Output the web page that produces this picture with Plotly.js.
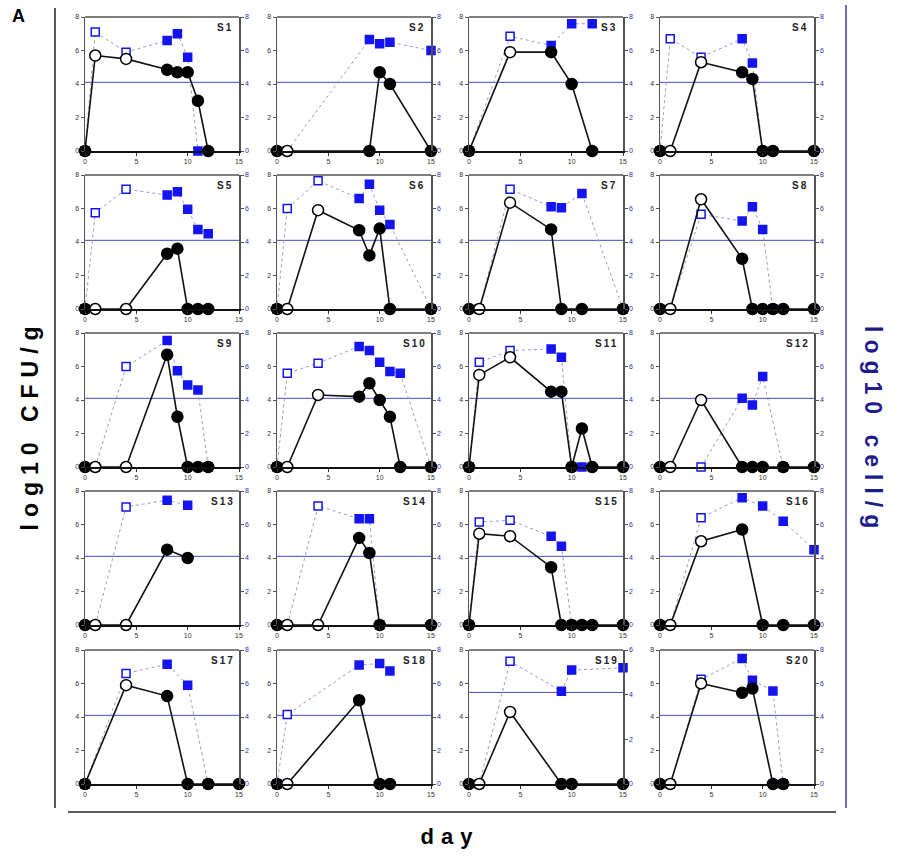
<!DOCTYPE html>
<html><head><meta charset="utf-8">
<script src="https://cdn.plot.ly/plotly-3.0.1.min.js"></script>
<style>body{margin:0;background:#fff}</style></head>
<body>
<div id="chart" style="width:900px;height:856px"></div>
<script>
const samples = ['S1','S2','S3','S4','S5','S6','S7','S8','S9','S10','S11','S12','S13','S14','S15','S16','S17','S18','S19','S20'];

const cfuDays = [
 [0,1,4,8,9,10,11,12],[0,1,9,10,11,15],[0,4,8,10,12],[0,1,4,8,9,10,11,15],
 [0,1,4,8,9,10,11,12],[0,1,4,8,9,10,11,15],[0,1,4,8,9,11,15],[0,1,4,8,9,10,11,12,15],
 [0,1,4,8,9,10,11,12],[0,1,4,8,9,10,11,12,15],[0,1,4,8,9,10,11,12,15],[0,1,4,8,9,10,12,15],
 [0,1,4,8,10],[0,1,4,8,9,10,15],[0,1,4,8,9,10,11,12,15],[0,1,4,8,10,12,15],
 [0,4,8,10,12,15],[0,1,8,10,11],[0,1,4,9,10,15],[0,1,4,8,9,11,12]
];
const cfuValues = [
 [0,5.7,5.5,4.85,4.7,4.7,3.0,0],[0,0,0,4.7,4.0,0],[0,5.9,5.9,4.0,0],[0,0,5.3,4.7,4.3,0,0,0],
 [0,0,0,3.3,3.6,0,0,0],[0,0,5.9,4.7,3.2,4.8,0,0],[0,0,6.35,4.75,0,0,0],[0,0,6.55,3.0,0,0,0,0,0],
 [0,0,0,6.7,3.0,0,0,0],[0,0,4.3,4.2,5.0,4.0,3.0,0,0],[0,5.5,6.55,4.5,4.5,0,2.3,0,0],[0,0,4.0,0,0,0,0,0],
 [0,0,0,4.5,4.0],[0,0,0,5.2,4.3,0,0],[0,5.45,5.3,3.45,0,0,0,0,0],[0,0,5.0,5.7,0,0,0],
 [0,5.9,5.25,0,0,0],[0,0,5.0,0,0],[0,0,4.3,0,0,0],[0,0,6.0,5.45,5.7,0,0]
];
const cellDays = [
 [0,1,4,8,9,10,11],[1,9,10,11,15],[0,4,8,10,12],[0,1,4,8,9,10],
 [0,1,4,8,9,10,11,12],[0,1,4,8,9,10,11,15],[1,4,8,9,11,15],[1,4,8,9,10,11],
 [1,4,8,9,10,11,12],[0,1,4,8,9,10,11,12,15],[0,1,4,8,9,10,11],[4,8,9,10,12],
 [1,4,8,10],[1,4,8,9,10],[0,1,4,8,9,10],[1,4,8,10,12,15],
 [0,4,8,10,12],[0,1,8,10,11],[1,4,9,10,15],[1,4,8,9,11,12]
];
const cellValues = [
 [0,7.1,5.9,6.6,7.0,5.6,0],[0,6.65,6.4,6.5,6.0],[0,6.85,6.3,7.6,7.6],[0,6.7,5.6,6.7,5.25,0],
 [0,5.75,7.15,6.8,7.0,5.95,4.75,4.5],[0,6.0,7.65,6.6,7.45,5.9,5.05,0],[0,7.15,6.1,6.05,6.9,0],[0,5.65,5.25,6.1,4.75,0],
 [0,6.0,7.55,5.75,4.9,4.6,0],[0,5.6,6.2,7.2,6.95,6.25,5.7,5.6,0],[0,6.25,6.95,7.05,6.55,0,0],[0,4.1,3.7,5.4,0],
 [0,7.05,7.45,7.15],[0,7.1,6.35,6.35,0],[0,6.15,6.25,5.3,4.7,0],[0,6.4,7.6,7.1,6.2,4.5],
 [0,6.6,7.15,5.9,0],[0,4.15,7.1,7.2,6.75],[0,5.5,4.15,5.1,5.2],[0,6.25,7.5,6.2,5.55,0]
];
const cellAxisMax = [8,8,8,8,8,8,8,8,8,8,8,8,8,8,8,8,8,8,6,8];
const detectionLimit = [4.1,4.1,4.1,4.1,4.1,4.1,4.1,4.1,4.1,4.1,4.1,4.1,4.1,4.1,4.1,4.1,4.1,4.1,4.1,4.1];
const cfuTicks = [0,2,4,6,8];
const dayTicks = [0,5,10,15];

const W = 900, H = 856;
const colLeft = [85,277,469,660], colW = 154;
const rowTop = [17,175,333,491,650], rowH = 134;
const BLUE = '#1414f0';
const FONT = 'Liberation Sans, Arial, sans-serif';
const isOpen = d => d === 1 || d === 4;

const traces = [];
const layout = {
  width: W, height: H, margin: {l:0, r:0, t:0, b:0}, showlegend: false,
  paper_bgcolor: 'white', plot_bgcolor: 'rgba(0,0,0,0)',
  shapes: [], annotations: []
};

samples.forEach((s, i) => {
  const n = i + 1, r = Math.floor(i / 4), c = i % 4;
  const sfx = n === 1 ? '' : String(n);
  const xa = 'x' + sfx, ya = 'y' + sfx;          // base y: cell/g (right)
  const ovN = 20 + n, yo = 'y' + ovN;            // overlay y: CFU/g (left)
  const xd = [colLeft[c] / W, (colLeft[c] + colW) / W];
  const yd = [1 - (rowTop[r] + rowH) / H, 1 - rowTop[r] / H];
  const rmax = cellAxisMax[i];
  const rticks = []; for (let t = 0; t <= rmax; t += 2) rticks.push(t);

  layout['xaxis' + sfx] = {
    domain: xd, anchor: ya, range: [0, 15], tickvals: dayTicks, ticks: 'outside', ticklen: 3,
    tickwidth: 1, tickcolor: '#333', showline: true, linecolor: '#111', linewidth: 2,
    showgrid: false, zeroline: false, fixedrange: true,
    tickfont: {size: 7, color: '#333', family: FONT}
  };
  layout['yaxis' + sfx] = {
    domain: yd, anchor: xa, side: 'right', range: [0, rmax], tickvals: rticks, ticks: 'outside',
    ticklen: 3, tickwidth: 1, tickcolor: '#555', showline: true, linecolor: '#555', linewidth: 1.5,
    showgrid: false, zeroline: false, fixedrange: true,
    tickfont: {size: 7, color: '#2a2ab0', family: FONT}
  };
  layout['yaxis' + ovN] = {
    overlaying: ya, anchor: xa, side: 'left', range: [0, 8], tickvals: cfuTicks, ticks: 'outside',
    ticklen: 3, tickwidth: 1, tickcolor: '#555', showline: true, linecolor: '#555', linewidth: 1.5,
    showgrid: false, zeroline: false, fixedrange: true,
    tickfont: {size: 7, color: '#333', family: FONT}
  };
  layout.shapes.push({type: 'line', xref: xa + ' domain', yref: ya + ' domain', x0: 0, x1: 1, y0: 1, y1: 1,
    line: {color: '#555', width: 1.5}});
  layout.shapes.push({type: 'line', layer: 'below', xref: xa + ' domain', yref: ya, x0: 0, x1: 1,
    y0: detectionLimit[i], y1: detectionLimit[i], line: {color: '#4848c8', width: 1}});
  layout.annotations.push({text: '<b>' + s + '</b>', xref: xa + ' domain', yref: ya + ' domain',
    x: 0.965, y: 0.975, xanchor: 'right', yanchor: 'top', showarrow: false,
    font: {size: 10, color: '#222', family: FONT}});

  traces.push({
    type: 'scatter', mode: 'lines+markers', x: cellDays[i], y: cellValues[i], xaxis: xa, yaxis: ya,
    cliponaxis: false, hoverinfo: 'skip',
    line: {color: '#9a9ac8', width: 1, dash: 'dot'},
    marker: {symbol: 'square', size: 8, color: cellDays[i].map(d => isOpen(d) ? 'white' : BLUE),
      line: {color: BLUE, width: 1.5}}
  });
  traces.push({
    type: 'scatter', mode: 'lines+markers', x: cfuDays[i], y: cfuValues[i], xaxis: xa, yaxis: yo,
    cliponaxis: false, hoverinfo: 'skip',
    line: {color: '#111', width: 1.6},
    marker: {symbol: 'circle', size: 11, color: cfuDays[i].map(d => isOpen(d) && d > 0 ? 'white' : '#000'),
      line: {color: '#000', width: 1.5}}
  });
});

layout.shapes.push({type: 'line', xref: 'paper', yref: 'paper', x0: 55/W, x1: 55/W, y0: 1-8/H, y1: 1-808/H, line: {color: '#222', width: 1.5}});
layout.shapes.push({type: 'line', xref: 'paper', yref: 'paper', x0: 68/W, x1: 836/W, y0: 1-812/H, y1: 1-812/H, line: {color: '#222', width: 1.5}});
layout.shapes.push({type: 'line', xref: 'paper', yref: 'paper', x0: 846/W, x1: 846/W, y0: 1-5/H, y1: 1-808/H, line: {color: '#3a3ab0', width: 1.5}});

layout.annotations.push({text: '<b>A</b>', xref: 'paper', yref: 'paper', x: 10/W, y: 1-16/H, xanchor: 'left', yanchor: 'middle',
  showarrow: false, font: {size: 18, color: '#000', family: FONT}});
layout.annotations.push({text: '<b>log10 CFU/g</b>', xref: 'paper', yref: 'paper', x: 30/W, y: 1-425/H, textangle: -90,
  xanchor: 'center', yanchor: 'middle', showarrow: false, font: {size: 23, color: '#000', family: FONT}});
layout.annotations.push({text: '<b>log10 cell/g</b>', xref: 'paper', yref: 'paper', x: 873/W, y: 1-430/H, textangle: 90,
  xanchor: 'center', yanchor: 'middle', showarrow: false, font: {size: 23, color: '#1c1c8c', family: FONT}});
layout.annotations.push({text: '<b>day</b>', xref: 'paper', yref: 'paper', x: 450/W, y: 1-836/H,
  xanchor: 'center', yanchor: 'middle', showarrow: false, font: {size: 22, color: '#000', family: FONT}});

Plotly.newPlot('chart', traces, layout, {staticPlot: true}).then(() => {
  document.querySelectorAll('.annotation-text').forEach(t => {
    const s = t.textContent;
    if (s === 'log10 CFU/g' || s === 'log10 cell/g') t.style.letterSpacing = '7px';
    else if (s === 'day') t.style.letterSpacing = '7px';
    else if (/^S\d+$/.test(s)) t.style.letterSpacing = '2px';
  });
});
</script>
</body></html>
